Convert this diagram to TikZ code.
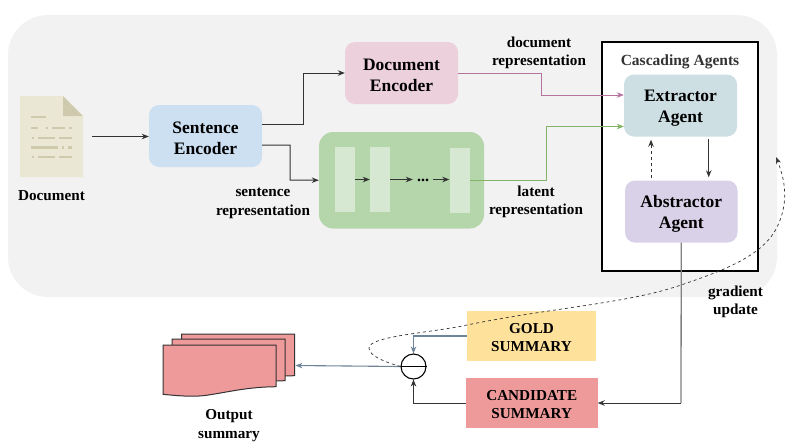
\documentclass[tikz,border=0pt]{standalone}
\usepackage{xcolor}
\usepackage{fontspec}
\setmainfont{Liberation Serif}
\usetikzlibrary{calc,arrows.meta}

\definecolor{panelgray}{HTML}{F2F2F2}
\definecolor{pagecol}{HTML}{EBE7D5}
\definecolor{foldcol}{HTML}{CFC9AD}
\definecolor{sentcol}{HTML}{CCE0F2}
\definecolor{doccol}{HTML}{ECD0DC}
\definecolor{greencol}{HTML}{B5D6AA}
\definecolor{barcol}{HTML}{D7E8D2}
\definecolor{extcol}{HTML}{CDDFE3}
\definecolor{abscol}{HTML}{D9D1E8}
\definecolor{goldcol}{HTML}{FEE19A}
\definecolor{candcol}{HTML}{EF9A9A}
\definecolor{purpleline}{HTML}{B5739D}
\definecolor{greenline}{HTML}{82B366}
\definecolor{slateline}{HTML}{6F8399}
\definecolor{darkline}{HTML}{333333}

% pushes a two-line node text down a little
\newcommand{\liftbig}{\rule{0pt}{17pt}}
\newcommand{\liftsmall}{\rule{0pt}{13pt}}

\tikzset{
  tip/.style={-{Stealth[length=7pt,width=5.5pt]}},
  link/.style={tip,darkline,line width=1pt},
  encoder/.style={rounded corners=10pt,minimum width=113pt,minimum height=62pt,inner sep=0pt,align=center,
    font=\fontsize{17.5}{21}\selectfont\bfseries},
  label/.style={align=center,inner sep=0pt,font=\fontsize{15.2}{18.5}\selectfont\bfseries},
  summary/.style={minimum height=50pt,inner sep=0pt,align=center,
    font=\fontsize{15.2}{18.5}\selectfont\bfseries},
  bar/.style={fill=barcol,minimum width=20pt,minimum height=65pt,inner sep=0pt},
  sheet/.style={fill=candcol,draw=darkline,line width=1pt},
}

\begin{document}
\begin{tikzpicture}[x=1pt,y=-1pt]
\useasboundingbox (0,0) rectangle (786,445);

% Background panel
\fill[panelgray,rounded corners=40pt] (8,15) rectangle (777,297);

% Document icon
\node[minimum width=63pt,minimum height=81pt,inner sep=0pt] (docicon) at (51.5,136.5) {};
\fill[pagecol] (20,96) -- (63,96) -- (83,116) -- (83,177) -- (20,177) -- cycle;
\fill[foldcol] (63,96) -- (83,116) -- (63,116) -- cycle;
\foreach \ya/\xa/\xb in {116.7/31/46, 128/31/38, 128/46/47.5, 128/52/65, 128/69/72,
  138/32/33.5, 138/38/55, 138/59/72, 147.5/31/58, 147.5/62/64, 147.5/68/72,
  157/32/33.5, 157/38/55, 157/59/72}
  \draw[foldcol,line width=2.4pt] (\xa,\ya) -- (\xb,\ya);
\node[label] (doclabel) at (51.5,196) {Document};

% Encoders
\node[encoder,fill=sentcol] (sentenc) at (205.5,136) {\liftbig Sentence\\Encoder};
\node[encoder,fill=doccol] (docenc) at (401.5,73) {\liftbig Document\\Encoder};
\node[label] (sentlabel) at (263,203.5) {sentence\\representation};
\node[label] (doclatent) at (539,53) {document\\representation};

% Latent block
\node[fill=greencol,rounded corners=14pt,minimum width=165pt,minimum height=96.5pt,inner sep=0pt] (latent) at (401.5,180.25) {};
\node[bar] (bara) at (345,179.5) {};
\node[bar] (barb) at (380,179.5) {};
\node[bar] (barc) at (459.5,180) {};
\node[inner xsep=4pt,inner ysep=0pt,minimum height=10pt,font=\fontsize{16}{18}\selectfont\bfseries] (dots) at (423,180.5) {...};
\coordinate (barline) at (423,179.5);
\node[label] (latlabel) at (536,202) {latent\\representation};

% Cascading agents
\node[draw=black,fill=white,line width=2pt,minimum width=155.5pt,minimum height=229pt,inner sep=0pt] (agentsbox) at (679.75,156.5) {};
\node[inner sep=0pt,text=darkline,font=\fontsize{15.5}{18}\selectfont\bfseries] (agentstitle) at (680,61.5) {Cascading Agents};
\node[encoder,fill=extcol] (extractor) at (680.5,105.5) {\liftbig Extractor\\Agent};
\node[encoder,fill=abscol,minimum width=112.5pt] (abstractor) at (681.25,211.5) {\liftbig Abstractor\\Agent};
\node[label] (gradlabel) at (735.5,302) {gradient\\update};

% Summaries
\node[summary,fill=goldcol,minimum width=129pt] (gold) at (531.5,336) {\liftsmall GOLD\\SUMMARY};
\node[summary,fill=candcol,minimum width=131.5pt] (candidate) at (531.75,403) {\liftsmall CANDIDATE\\SUMMARY};
\node[draw=black,circle,line width=1.1pt,minimum size=25pt,inner sep=0pt] (minus) at (413.5,366.5) {};
\draw[black,line width=1.1pt] (minus.west) -- (minus.east);

% Output stack
\foreach \dx/\dy in {18.5/-11, 9/-6, 0/0}
  \draw[sheet,shift={(\dx,\dy)}] (163,345) -- (276,345) -- (276,386.7)
    .. controls (245,387) and (225,393) .. (203,395.7)
    .. controls (190,397) and (175,395.5) .. (163,394.3) -- cycle;
\node[inner sep=0pt,minimum width=131.5pt,minimum height=62pt] (output) at (229,365) {};
\node[label] (outlabel) at (229,425.5) {Output\\summary};

% Connectors
\draw[link,shorten <=9pt] (docicon.east) -- (docicon.east -| sentenc.west);
\draw[link] ($(sentenc.east)+(0,-11.5)$) -- (303,124.5) -- (303,73) -- (docenc.west);
\draw[link] ($(sentenc.east)+(0,9)$) -- (290,145) -- (290,180) -- (latent.west);
\draw[link] (bara.east) -- (barb.west);
\draw[link] (barb.east) -- (barline -| dots.west);
\draw[link] (barline -| dots.east) -- (barline -| barc.west);
\draw[tip,purpleline,line width=1pt] (docenc.east) -- (541,73) -- (541,95) -- ($(extractor.west)+(0,-10.5)$);
\draw[tip,greenline,line width=1pt] (barc.east) -- (546.5,180) -- (546.5,126.5) -- ($(extractor.west)+(0,21)$);
\draw[link,dashed,shorten <=2pt,shorten >=3pt] (abstractor.north -| 651,0) -- (extractor.south -| 651,0);
\draw[link,shorten <=2pt,shorten >=3pt] (extractor.south -| 708.7,0) -- (abstractor.north -| 708.7,0);

\coordinate (corner) at (681,403);
\draw[gray,line width=1.3pt] (abstractor.south) -- (corner);
\draw[link] (corner) -- (candidate.east);
\draw[link] (candidate.west) -- (minus.south |- candidate.west) -- (minus.south);
\draw[tip,slateline,line width=1.1pt] (gold.west) -- (minus.north |- gold.west) -- (minus.north);
\draw[tip,slateline,line width=1.1pt] (minus.west) -- ($(output.east)+(0.5,0.5)$);

% Gradient update
\draw[tip,dashed,darkline,line width=0.7pt] (minus.west)
  .. controls (385,362) and (369,356) .. (369,348)
  .. controls (369,336) and (430,333) .. (467,325)
  .. controls (550,308) and (630,303) .. (681,285)
  .. controls (725,270) and (765,255) .. (778,225)
  .. controls (787,205) and (787,185) .. (776,157);

\end{tikzpicture}
\end{document}
